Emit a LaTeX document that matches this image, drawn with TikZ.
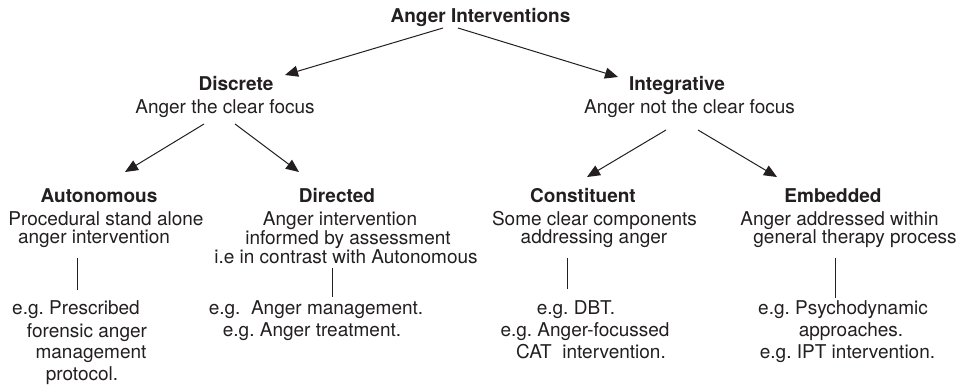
\documentclass[tikz,border=0pt]{standalone}
\usepackage{fontspec}
\setmainfont{TeX Gyre Heros}
\usetikzlibrary{arrows.meta,calc}
\definecolor{ink}{HTML}{231F20}
\frenchspacing
\begin{document}
\begin{tikzpicture}[x=1pt,y=-1pt,
  txt/.style={anchor=base,inner sep=0pt,font=\fontsize{19}{19}\selectfont\frenchspacing,text=ink},
  head/.style={txt,font=\fontsize{19}{19}\selectfont\bfseries},
  arr/.style={draw=ink,line width=1pt,-{Triangle[length=13pt,width=11pt]}},
  stem/.style={draw=ink,line width=0.9pt}]
\useasboundingbox[fill=white] (0,0) rectangle (972,388);
% level 0
\node[head] (root) at (480.5,23) {Anger Interventions};
% level 1
\node[head] (disc) at (236,90) {Discrete};
\node[txt] (dsub) at (225,113) {Anger the clear focus};
\node[head] (integ) at (677,90) {Integrative};
\node[txt] (isub) at (689.5,113) {Anger not the clear focus};
% level 2 : Autonomous
\node[head] (auto) at (99,202) {Autonomous};
\node[txt] (an1) at (106,225) {Procedural stand alone};
\node[txt] (an2) at (94,243) {anger intervention};
\node[txt] (ae1) at (76,314) {e.g. Prescribed};
\node[txt] (ae2) at (87,337) {forensic anger};
\node[txt] (ae3) at (91,358) {management};
\node[txt] (ae4) at (82,380) {protocol.};
% Directed
\node[head] (dir) at (337,202) {Directed};
\node[txt] (dd1) at (340,225) {Anger intervention};
\node[txt] (dd2) at (348,244) {informed by assessment};
\node[txt] (dd3) at (346,263) {i.e in contrast with Autonomous};
\node[txt] (de1) at (316,314) {e.g.\ \ Anger management.};
\node[txt] (de2) at (312,336) {e.g. Anger treatment.};
% Constituent
\node[head] (cons) at (583,202) {Constituent};
\node[txt] (cd1) at (594.5,225) {Some clear components};
\node[txt] (cd2) at (594,243) {addressing anger};
\node[txt] (ce1) at (576,314) {e.g. DBT.};
\node[txt] (ce2) at (585,336) {e.g. Anger-focussed};
\node[txt] (ce3) at (591,358) {CAT\ \ intervention.};
% Embedded
\node[head] (emb) at (833,202) {Embedded};
\node[txt] (ed1) at (839.5,225) {Anger addressed within};
\node[txt] (ed2) at (855,243) {general therapy process};
\node[txt] (ee1) at (843,314) {e.g. Psychodynamic};
\node[txt] (ee2) at (851,336) {approaches.};
\node[txt] (ee3) at (847.5,358) {e.g. IPT intervention.};
% arrows
\draw[arr] ($(root.base)+(-37.5,5)$) -- ($(disc.base)+(49,-15)$);
\draw[arr] ($(root.base)+(-22.5,5)$) -- ($(integ.base)+(-59,-13)$);
\draw[arr] ($(dsub.base)+(-21,11)$) -- ($(auto.base)+(26,-30)$);
\draw[arr] ($(dsub.base)+(10,11)$) -- ($(dir.base)+(-38,-30)$);
\draw[arr] ($(isub.base)+(-23.5,17)$) -- ($(cons.base)+(4,-25)$);
\draw[arr] ($(isub.base)+(8.5,17)$) -- ($(emb.base)+(-56,-25)$);
% stems
\draw[stem] ($(an2.base)+(-17,15)$) -- ($(ae1.base)+(1,-24)$);
\draw[stem] ($(dd3.base)+(-14,5)$) -- ($(de1.base)+(16,-17)$);
\draw[stem] ($(cd2.base)+(-27,15)$) -- ($(ce1.base)+(-9,-25)$);
\draw[stem] ($(ed2.base)+(-20,15)$) -- ($(ee1.base)+(-8,-16)$);
\end{tikzpicture}
\end{document}
